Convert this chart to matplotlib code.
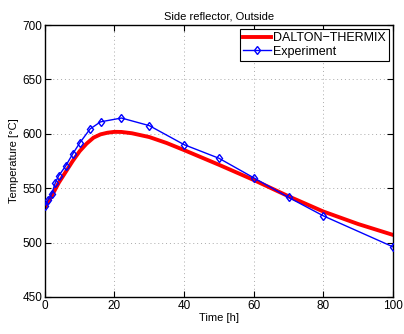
import numpy as np
import matplotlib
matplotlib.use('Agg')
import matplotlib.pyplot as plt

plt.rcParams['font.family'] = ['Liberation Sans', 'DejaVu Sans']

# 模拟曲线 (DALTON-THERMIX)
sim_t = [0, 2, 4, 6, 8, 10, 12, 14, 16, 18, 20, 22, 25, 30, 35, 40, 50, 60, 70, 80, 90, 100]
sim_T = [532, 543, 555, 565, 575, 584, 591, 596.5, 599.5, 601, 601.8, 601.7, 600.5, 597,
         591.5, 585, 571.5, 557.5, 542.5, 528.5, 517, 507]

# 实验数据
exp_t = [0, 1, 2, 3, 4, 6, 8, 10, 13, 16, 22, 30, 40, 50, 60, 70, 80, 100]
exp_T = [534, 539.5, 545, 555, 561.5, 570.5, 581.5, 591.5, 604.5, 611, 614.5, 607.5,
         590, 577.5, 559.5, 541.5, 524.5, 496]

fig = plt.figure(figsize=(4.04, 3.34), dpi=100)
ax = fig.add_axes([0.111, 0.111, 0.862, 0.814])

ax.plot(sim_t, sim_T, color='#ff0000', lw=2.8, label='DALTON\u2212THERMIX', zorder=2)
ax.plot(exp_t, exp_T, color='#0000ff', lw=1.0, marker='d', ms=4.5, mfc='none',
        mew=1.0, label='Experiment', zorder=3)

ax.set_xlim(0, 100)
ax.set_ylim(450, 700)
ax.set_xticks(np.arange(0, 101, 20))
ax.set_yticks(np.arange(450, 701, 50))
ax.grid(True, linestyle=(0, (1, 3)), color='#aaaaaa', lw=0.7)
ax.tick_params(direction='in', top=True, right=True, labelsize=8.5, length=4, pad=2)
for s in ax.spines.values():
    s.set_linewidth(1.0)

ax.set_xlabel('Time [h]', fontsize=8, labelpad=1)
ax.set_ylabel('Temperature [\u00b0C]', fontsize=8, labelpad=2)
ax.set_title('Side reflector, Outside', fontsize=8, pad=4)

leg = ax.legend(loc='upper right', fontsize=9, fancybox=False, framealpha=1,
                edgecolor='black', borderpad=0.25, handlelength=2.2,
                handletextpad=0.2, labelspacing=0.15, borderaxespad=0.3)
leg.get_frame().set_linewidth(0.8)

fig.savefig('out.png', dpi=100)
